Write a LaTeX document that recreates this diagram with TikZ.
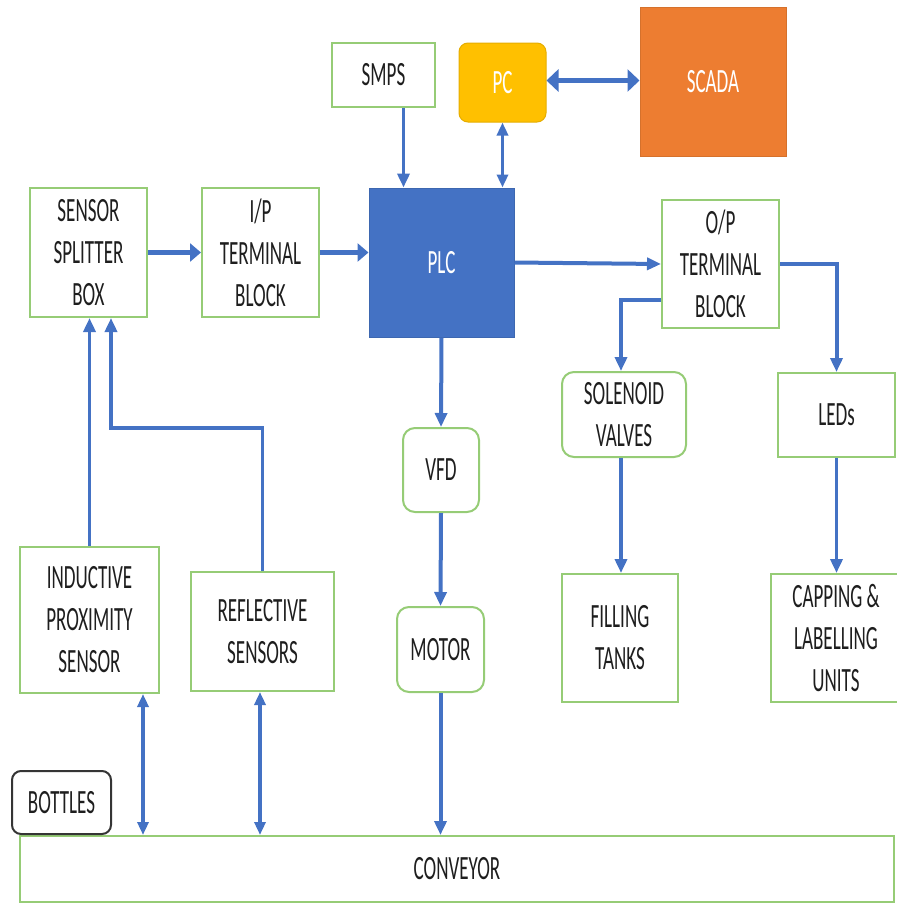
\documentclass[tikz,border=0pt]{standalone}
\usepackage{fontspec}
\setmainfont{Carlito}[FakeStretch=0.56]
\usetikzlibrary{arrows.meta}
\definecolor{lineblue}{RGB}{68,114,196}
\definecolor{boxgreen}{RGB}{150,204,118}
\definecolor{pcyellow}{RGB}{255,192,0}
\definecolor{scadaorange}{RGB}{237,125,49}
\definecolor{plcblue}{RGB}{68,114,196}
\definecolor{txtgray}{RGB}{30,30,30}
\begin{document}
\begin{tikzpicture}[x=1pt,y=-1pt,
  box/.style={draw=boxgreen, line width=2pt, fill=white, inner sep=0pt, align=center,
    font=\fontsize{34}{42}\selectfont, text=txtgray},
  rbox/.style={box, rounded corners=12pt},
  solidbox/.style={inner sep=0pt, align=center, font=\fontsize{34}{42}\selectfont, text=white},
  conn/.style={draw=lineblue, line width=3.5pt, -{Triangle[length=14pt,width=12pt]}},
  dconn/.style={draw=lineblue, line width=3.5pt, {Triangle[length=13pt,width=11pt]}-{Triangle[length=13pt,width=11pt]}},
  thick conn/.style={draw=lineblue, line width=5pt, -{Triangle[length=11pt,width=18pt]}},
  thick dconn/.style={draw=lineblue, line width=5pt, {Triangle[length=12pt,width=22pt]}-{Triangle[length=12pt,width=22pt]}}
]
\useasboundingbox (0,0) rectangle (897,903);
% nodes
\node[box, minimum width=103pt, minimum height=64pt] (smps) at (383.5,75) {SMPS};
\node[solidbox, fill=pcyellow, draw=pcyellow!90!black, line width=1pt, rounded corners=9pt, minimum width=87pt, minimum height=79pt] (pc) at (502.5,82.5) {PC};
\node[solidbox, fill=scadaorange, draw=scadaorange!90!black, line width=1pt, minimum width=146pt, minimum height=149pt] (scada) at (713,81.5) {SCADA};
\node[solidbox, fill=plcblue, draw=plcblue!90!black, line width=1pt, minimum width=145pt, minimum height=149pt] (plc) at (441.5,262.5) {PLC};
\node[box, minimum width=117pt, minimum height=129pt] (splitter) at (88.5,252.5) {SENSOR\\SPLITTER\\BOX};
\node[box, minimum width=117pt, minimum height=129pt] (ip) at (260.5,252.5) {I/P\\TERMINAL\\BLOCK};
\node[box, minimum width=117pt, minimum height=128pt] (op) at (720.5,264) {O/P\\TERMINAL\\BLOCK};
\node[rbox, minimum width=124pt, minimum height=85pt] (sol) at (624,414.5) {SOLENOID\\VALVES};
\node[box, minimum width=117pt, minimum height=84pt] (leds) at (836.5,415) {LEDs};
\node[rbox, minimum width=76pt, minimum height=84pt] (vfd) at (441,470) {VFD};
\node[rbox, minimum width=87pt, minimum height=85pt] (motor) at (440.5,649.5) {MOTOR};
\node[box, minimum width=116pt, minimum height=128pt] (fill) at (620,638) {FILLING\\TANKS};
\node[box, minimum width=130pt, minimum height=128pt] (cap) at (836,638) {CAPPING \&\\LABELLING\\UNITS};
\node[box, minimum width=139pt, minimum height=146pt] (ind) at (89.5,620) {INDUCTIVE\\PROXIMITY\\SENSOR};
\node[box, minimum width=143pt, minimum height=119pt] (refl) at (262.5,631.5) {REFLECTIVE\\SENSORS};
\node[box, minimum width=874pt, minimum height=66pt] (conv) at (457,869) {CONVEYOR};
\node[box, draw=txtgray!90, rounded corners=9pt, minimum width=99pt, minimum height=63pt] (bottles) at (61.5,802.5) {BOTTLES};
% connectors
\draw[conn] ([xshift=20pt]smps.south) -- ([xshift=20pt]smps.south |- plc.north);
\draw[dconn] (pc.south) -- (pc.south |- plc.north);
\draw[thick dconn] ([yshift=2pt]pc.east) -- ([yshift=2pt]pc.east -| scada.west);
\draw[thick conn] (splitter.east) -- (ip.west);
\draw[thick conn] (ip.east) -- (ip.east -| plc.west);
\draw[conn, line width=4pt] (plc.east) -- (op.west);
\draw[conn, line width=4pt] ([yshift=-36pt]op.west) -| ([xshift=-3pt]sol.north);
\draw[conn, line width=4pt] (op.east) -| (leds.north);
\draw[conn, line width=4pt] (plc.south) -- (vfd.north);
\draw[conn, line width=4pt] (vfd.south) -- (motor.north);
\draw[conn, line width=4pt] (motor.south) -- (motor.south |- conv.north);
\draw[conn] ([xshift=-3pt]sol.south) -- ([xshift=-3pt]sol.south |- fill.north);
\draw[conn] (leds.south) -- (leds.south |- cap.north);
\draw[conn] (ind.north) -- (ind.north |- splitter.south);
\draw[conn] (refl.north) -- ++(0,-143) -| ([xshift=22.5pt]splitter.south);
\draw[dconn] ([xshift=53.5pt]ind.south) -- ([xshift=53.5pt]ind.south |- conv.north);
\draw[dconn] ([xshift=-2.5pt]refl.south) -- ([xshift=-2.5pt]refl.south |- conv.north);
\end{tikzpicture}
\end{document}
